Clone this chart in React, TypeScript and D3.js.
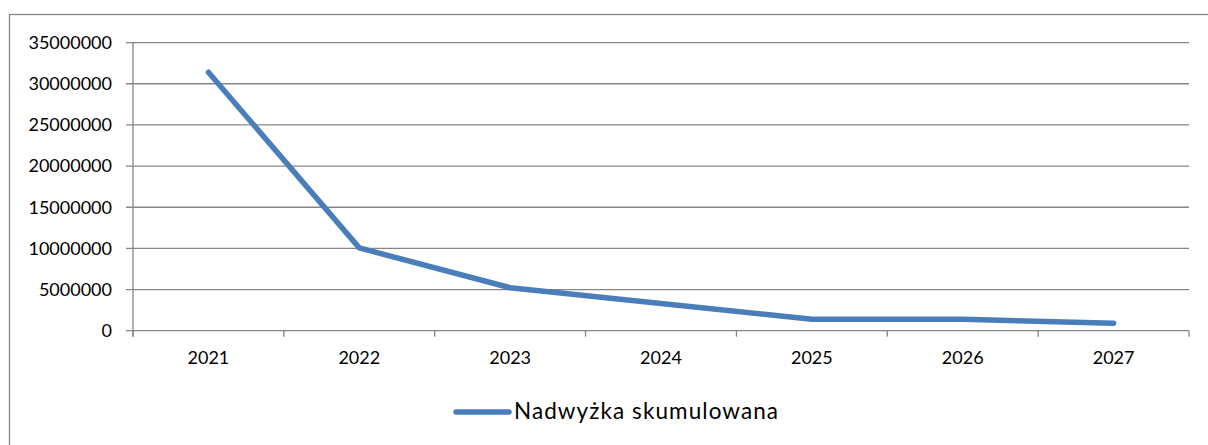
import React from "react";
import * as d3 from "d3";

// values
const years = ["2021", "2022", "2023", "2024", "2025", "2026", "2027"];
const surplus = [31400000, 10060000, 5220000, 3310000, 1380000, 1380000, 900000];
const yTicks = [0, 5000000, 10000000, 15000000, 20000000, 25000000, 30000000, 35000000];
const seriesName = "Nadwyżka skumulowana";

const App = () => {
  const width = 1208;
  const height = 445;
  const plot = { left: 133, right: 1189, top: 42.6, bottom: 330.7 };
  const gray = "#868686";
  const blue = "#4a7ebb";
  const font = "Lato, 'Open Sans', sans-serif";

  const x = d3.scaleBand().domain(years).range([plot.left, plot.right]);
  const y = d3.scaleLinear().domain([0, 35000000]).range([plot.bottom, plot.top]);

  const line = d3
    .line<number>()
    .x((_, i) => (x(years[i]) as number) + x.bandwidth() / 2)
    .y((d) => y(d));

  // tick marks sit on category boundaries
  const boundaries = years.map((yr) => x(yr) as number).concat([plot.right]);

  return (
    <div style={{ position: "absolute", left: 0, top: 0 }}>
      <svg width={width} height={height} style={{ display: "block" }}>
        <rect width={width} height={height} fill="#fff" />
        {/* chart frame */}
        <rect x={9.5} y={14.5} width={width + 10} height={height} fill="none" stroke={gray} strokeWidth={1.3} />

        {/* horizontal gridlines + y ticks */}
        {yTicks.map((t) => (
          <g key={t}>
            <line x1={plot.left - 7} x2={plot.right} y1={y(t)} y2={y(t)} stroke={gray} strokeWidth={1.3} />
            <text
              x={112}
              y={y(t)}
              dy="0.35em"
              textAnchor="end"
              fontFamily={font}
              fontSize={18}
              fill="#000"
            >
              {t}
            </text>
          </g>
        ))}

        {/* y axis line */}
        <line x1={plot.left} x2={plot.left} y1={plot.top} y2={plot.bottom + 6} stroke={gray} strokeWidth={1.3} />

        {/* x tick marks */}
        {boundaries.map((b, i) => (
          <line key={i} x1={b} x2={b} y1={plot.bottom} y2={plot.bottom + 6} stroke={gray} strokeWidth={1.3} />
        ))}

        {/* x labels */}
        {years.map((yr) => (
          <text
            key={yr}
            x={(x(yr) as number) + x.bandwidth() / 2}
            y={364}
            textAnchor="middle"
            fontFamily={font}
            fontSize={18}
            fill="#000"
          >
            {yr}
          </text>
        ))}

        {/* series */}
        <path
          d={line(surplus) || ""}
          fill="none"
          stroke={blue}
          strokeWidth={5.5}
          strokeLinecap="round"
          strokeLinejoin="round"
        />

        {/* legend */}
        <line x1={456} x2={509} y1={412} y2={412} stroke={blue} strokeWidth={5.5} strokeLinecap="round" />
        <text
          x={514}
          y={419}
          fontFamily={font}
          fontSize={22.5}
          textLength={264}
          lengthAdjust="spacing"
          fill="#000"
        >
          {seriesName}
        </text>
      </svg>
    </div>
  );
};

export default App;
